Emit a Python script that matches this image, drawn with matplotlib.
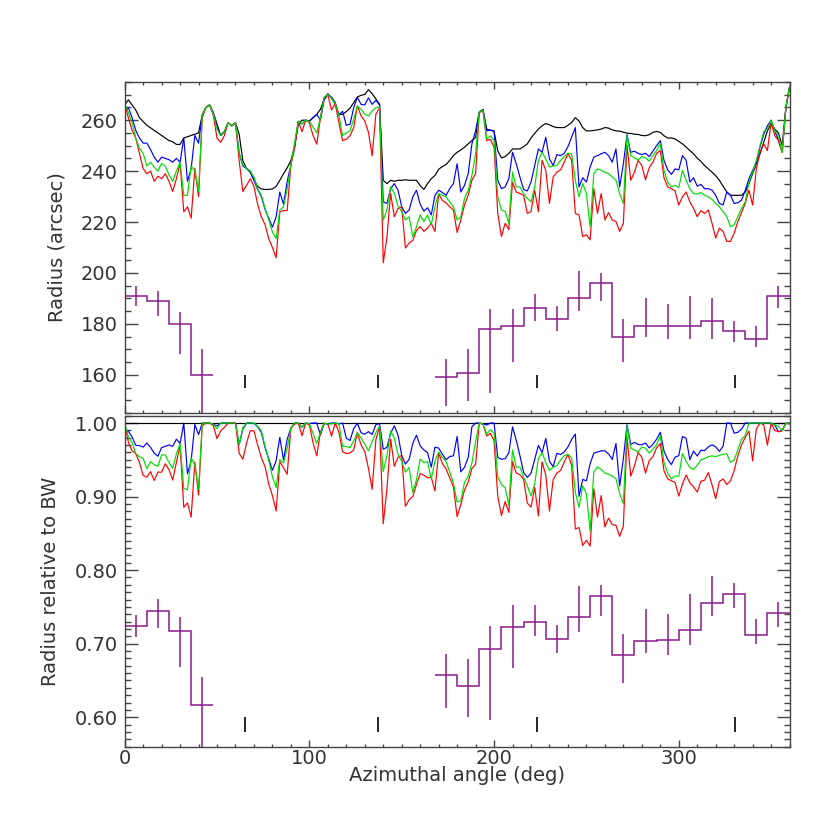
import numpy as np
import matplotlib
matplotlib.use("Agg")
import matplotlib.pyplot as plt
from matplotlib.ticker import MultipleLocator, FormatStrFormatter

# azimuth grid of the radius profiles (deg)
angle = np.arange(0, 361, 2)

# radius (arcsec) of the BW reference contour and the three coloured contours
radius_bw = [
    266, 268, 266, 264, 261, 259.5, 258, 257, 256, 255,
    254, 253, 252, 251.5, 250.5, 250.5, 253, 253.5, 254, 254.5,
    255, 262, 265, 266, 263, 258.5, 254, 255.5, 259, 257.8,
    259, 254.5, 244, 241, 239.5, 236.5, 234, 233, 232.8, 232.8,
    233, 234, 236.4, 239, 241.3, 244.2, 249.4, 258.4, 260, 260,
    259.7, 261, 262.3, 264.3, 268.2, 270.4, 268.8, 266.2, 262.3, 262.3,
    263.4, 264.7, 266.9, 269.1, 269.8, 270.1, 272, 270.4, 268.4, 266.2,
    236.4, 235.1, 236.4, 236, 236.4, 236.4, 236.6, 236.4, 236.4, 236.4,
    234.3, 232.8, 235.1, 237, 238.3, 240.7, 241.8, 242.6, 244.2, 246.1,
    247.4, 248.3, 249.4, 250.7, 252, 253.2, 263, 264.3, 256.5, 256.1,
    255.6, 248, 245.2, 245.7, 247, 248.7, 248.7, 248.7, 249.6, 250.7,
    253, 254.8, 256.5, 257.8, 258.7, 258.2, 257.5, 257.1, 257.1, 257.1,
    258, 259.1, 261, 259.7, 257.1, 255.8, 255.8, 256, 256.2, 256.5,
    257.1, 256.9, 256.2, 255.8, 255.7, 255.3, 254.9, 254.8, 254.5, 254.4,
    254, 253.9, 254.3, 255.2, 255.6, 255.2, 253.9, 253, 253, 252.6,
    251.7, 250.7, 249.4, 248.1, 246.8, 245.1, 243.8, 242.2, 240.9, 239.6,
    238.2, 236.4, 234.1, 231.8, 230.5, 230.5, 230.5, 230.5, 231.8, 235.1,
    239, 242.9, 246.8, 251.3, 255.8, 258.7, 256.5, 255, 250, 265,
    273,
]

radius_blue = [
    263, 265, 261, 256, 253, 251, 251, 248.5, 245.5, 243.5,
    245.5, 245, 244.5, 243.5, 245, 243.5, 253, 236, 241, 254,
    251, 262, 265, 266, 262.5, 257.5, 254, 255.5, 259, 257.8,
    259, 247, 242, 241, 240, 236.4, 232.8, 230, 225, 221.5,
    218, 222, 231.8, 227, 236, 242.5, 250, 259.5, 258.5, 260,
    259.5, 261, 262.3, 260, 268, 270, 269, 267, 262, 263.5,
    258, 258.4, 264.9, 269, 266.2, 266, 268.8, 266.2, 267.8, 266,
    228, 227.3, 233.1, 235.1, 232.5, 226, 223.4, 224.7, 229.9, 232.5,
    227, 224.3, 225.6, 222.8, 230.5, 232.5, 231.6, 230.5, 233.1, 235.1,
    242.9, 231.8, 234.4, 239, 250.7, 255.8, 263.4, 264, 255.8, 256.1,
    255.8, 236.4, 233.1, 233.8, 237, 247.4, 242.9, 237.7, 232.8, 232.2,
    235.7, 242.2, 248.7, 247.4, 253.3, 244.8, 242.2, 246.5, 246.1, 247,
    249.6, 253.3, 257.1, 233.8, 237.4, 235.7, 241.6, 245.5, 246.1, 246.8,
    247.4, 246.1, 243.5, 248.7, 233.8, 242.9, 254.3, 247.4, 247.8, 247,
    246.5, 247, 245.7, 247.8, 250, 252, 244.2, 240.5, 238.7, 240.9,
    240.5, 246.1, 244.2, 235.7, 237.4, 234.1, 234.8, 233.1, 233.1, 232.5,
    230.5, 227.3, 226.7, 231.8, 230.5, 227.3, 227.6, 228.6, 232.5, 237,
    240.3, 243.5, 249.4, 254.5, 257.8, 260, 255.8, 252, 247.4, 264.9,
    273.3,
]

radius_green = [
    266.5, 263, 259, 253, 249, 247, 242, 243.5, 241.5, 240,
    243, 242, 238.5, 236, 240, 243.5, 230.5, 230.5, 242, 240,
    232, 262, 265, 266, 262.5, 256.5, 254, 255.5, 259, 257.8,
    259, 247, 242.5, 241, 240, 237.7, 233, 230.5, 225.4, 221,
    216, 213.5, 224.7, 226, 233, 242.5, 251, 259.7, 258.5, 260,
    259.5, 257.3, 255, 261, 269, 270, 268.5, 266.5, 262, 254,
    255, 255.8, 260.4, 265.6, 264.3, 262.3, 261.7, 263.6, 264.9, 265.2,
    220.8, 224.7, 233.8, 231.2, 226.3, 224.1, 220.8, 222.1, 214.1, 218.2,
    222.8, 220.2, 222.8, 218.9, 226, 231.2, 230.5, 229.9, 227.9, 226,
    220.8, 222.1, 229.3, 232.5, 238.3, 246.8, 263.4, 263.9, 252.6, 253.8,
    252, 229.9, 224.7, 224.1, 219.5, 239.6, 233.8, 233.8, 231.2, 229.3,
    227.9, 233.8, 244.2, 247.4, 244.8, 241.6, 242, 242.2, 244.2, 245.7,
    247, 246.8, 236.4, 229.9, 235.1, 231.2, 218.2, 239, 240.9, 240.3,
    239.6, 239, 237.7, 236.4, 231.2, 227.3, 253.9, 246.1, 245.2, 244.4,
    245.7, 245.2, 243.9, 246.1, 248.1, 250.9, 240.3, 235.7, 233.8, 234.4,
    233.5, 240.3, 236.4, 233.1, 231.2, 231, 231.6, 230.5, 229.9, 228.9,
    227.3, 226, 224.1, 222.1, 218.2, 218.9, 222.1, 225.4, 227.9, 235.7,
    239.6, 244.2, 250, 255.6, 256.5, 260, 255.8, 253.9, 247.4, 264.9,
    273.3,
]

radius_red = [
    266, 261, 256, 253, 247, 241, 239, 240, 236, 238,
    237, 239, 236, 232, 237, 243, 224, 226, 221.5, 241,
    230, 261, 265, 266, 262, 253, 251.3, 254, 259, 257.8,
    259, 244, 232, 234.4, 237, 234, 227, 222, 219, 213.5,
    210, 206, 224, 224.5, 224.5, 242.5, 249, 259.5, 255.5, 260,
    259, 254, 250.6, 261, 269, 270, 264, 266.5, 259, 252,
    252.5, 253.9, 257.1, 265.6, 261.7, 259.7, 255.2, 246, 262.3, 264.9,
    204, 214, 231.2, 222.1, 225.4, 226, 209.8, 211.7, 212.8, 216.7,
    218.2, 216.3, 217.6, 219.5, 216.3, 231, 228.5, 227.5, 226, 224.7,
    215.9, 220.8, 226.7, 230.6, 236.4, 239, 263, 263.9, 252, 252.5,
    249.4, 223.4, 214.3, 219.5, 217, 235.7, 231.8, 231.2, 230.5, 223.4,
    224.1, 232.5, 224.1, 244.2, 240.3, 227.3, 237.7, 239.6, 240.5, 243.5,
    247, 244.2, 223.4, 222.8, 214.3, 215, 213, 233.1, 223.4, 231.2,
    220.8, 223.7, 220.8, 220.2, 216.3, 219.5, 250, 236.4, 239.6, 244.2,
    242.2, 236.6, 241.3, 243.5, 247, 248.1, 237.4, 233.8, 233.1, 232.2,
    226.7, 229.9, 231.8, 227.9, 225.4, 222.1, 224.5, 223.4, 224.7, 219.5,
    213.7, 217.6, 216.3, 212.4, 212.4, 215.6, 220.2, 223.7, 227.3, 232.5,
    226.7, 240.9, 247.4, 250.7, 248.1, 259.1, 253.9, 252, 247.4, 264.9,
    272.7,
]

# binned profile (purple), two groups of 12 deg bins
bins_a = [0, 12, 24, 36, 48]
centres_a = [6, 18, 30, 42]
bins_b = [168, 180, 192, 204, 216, 228, 240, 252, 264, 276, 288, 300, 312, 324, 336, 348, 360]
centres_b = [174, 186, 198, 210, 222, 234, 246, 258, 270, 282, 294, 306, 318, 330, 342, 354]

rad_a = [191.1, 188.9, 180.0, 160.0]
rad_a_hi = [195.0, 193.0, 184.8, 170.1]
rad_a_lo = [187.0, 183.1, 168.1, 144.0]
rad_b = [159.0, 160.9, 178.1, 179.0, 186.1, 182.0, 190.0, 196.0,
         175.0, 179.0, 179.0, 179.0, 181.0, 177.1, 173.9, 191.1]
rad_b_hi = [166.1, 170.0, 185.9, 185.9, 191.9, 187.0, 200.9, 200.0,
            182.0, 190.0, 188.0, 191.0, 190.0, 181.0, 179.0, 195.0]
rad_b_lo = [147.9, 149.8, 152.8, 165.1, 181.0, 177.1, 185.0, 188.8,
            165.1, 175.0, 173.9, 173.9, 173.9, 173.0, 170.9, 186.1]

rel_a = [0.724, 0.745, 0.717, 0.616]
rel_a_hi = [0.739, 0.761, 0.736, 0.655]
rel_a_lo = [0.709, 0.721, 0.668, 0.556]
rel_b = [0.658, 0.643, 0.693, 0.723, 0.730, 0.707, 0.736, 0.765,
         0.685, 0.704, 0.705, 0.718, 0.755, 0.767, 0.712, 0.742]
rel_b_hi = [0.686, 0.679, 0.724, 0.752, 0.753, 0.726, 0.779, 0.780,
            0.713, 0.747, 0.741, 0.767, 0.792, 0.783, 0.733, 0.757]
rel_b_lo = [0.613, 0.600, 0.596, 0.667, 0.710, 0.688, 0.716, 0.738,
            0.646, 0.688, 0.685, 0.698, 0.738, 0.749, 0.700, 0.723]

# short vertical markers near the bottom of each panel
mark_angles = [65, 137, 223.5, 330.5]
mark_top = [155, 160]
mark_bot = [0.58, 0.60]

PURPLE = '#8c1a8c'
TXT = '#333333'
plt.rcParams['font.family'] = 'DejaVu Sans'
plt.rcParams['font.size'] = 14

fig = plt.figure(figsize=(8.3, 8.3), dpi=100)
ax1 = fig.add_axes([0.1502, 0.5024, 0.8011, 0.3988])
ax2 = fig.add_axes([0.1502, 0.1004, 0.8011, 0.3988])

bw = np.array(radius_bw)
curves = [(radius_bw, 'black'), (radius_blue, '#0000ff'),
          (radius_red, '#ff0000'), (radius_green, '#00dd00')]

for vals, col in curves:
    ax1.plot(angle, vals, color=col, lw=0.85)
    # radius relative to the BW contour, capped at 1
    ax2.plot(angle, np.minimum(np.array(vals) / bw, 1.0), color=col, lw=0.85)


def binned(ax, edges, centres, v, hi, lo):
    ax.stairs(v, edges, baseline=None, color=PURPLE, lw=1.1)
    v = np.array(v)
    ax.errorbar(centres, v, yerr=[v - np.array(lo), np.array(hi) - v],
                fmt='none', ecolor=PURPLE, elinewidth=1.1, capsize=0)


binned(ax1, bins_a, centres_a, rad_a, rad_a_hi, rad_a_lo)
binned(ax1, bins_b, centres_b, rad_b, rad_b_hi, rad_b_lo)
binned(ax2, bins_a, centres_a, rel_a, rel_a_hi, rel_a_lo)
binned(ax2, bins_b, centres_b, rel_b, rel_b_hi, rel_b_lo)

ax1.vlines(mark_angles, mark_top[0], mark_top[1], color='black', lw=1.2)
ax2.vlines(mark_angles, mark_bot[0], mark_bot[1], color='black', lw=1.2)

ax1.set_xlim(0, 360)
ax2.set_xlim(0, 360)
ax1.set_ylim(145, 275)
ax2.set_ylim(0.56, 1.01)

for ax in (ax1, ax2):
    ax.xaxis.set_major_locator(MultipleLocator(100))
    ax.xaxis.set_minor_locator(MultipleLocator(10))
    for s in ax.spines.values():
        s.set_color('#444444')
        s.set_linewidth(1.0)
    ax.tick_params(which='both', direction='in', right=True, top=True,
                   colors='#444444', labelcolor=TXT, width=1.0)
    ax.tick_params(axis='y', which='major', length=9.4, pad=5)
    ax.tick_params(axis='y', which='minor', length=4.3)
    ax.tick_params(axis='x', which='major', length=5, pad=1.5)
    ax.tick_params(axis='x', which='minor', length=2.5)

ax2.tick_params(axis='x', which='both', top=False)
ax1.tick_params(axis='x', labelbottom=False)

ax1.yaxis.set_major_locator(MultipleLocator(20))
ax1.yaxis.set_minor_locator(MultipleLocator(5))
ax2.yaxis.set_major_locator(MultipleLocator(0.1))
ax2.yaxis.set_minor_locator(MultipleLocator(0.01))
ax2.yaxis.set_major_formatter(FormatStrFormatter('%.2f'))

ax1.set_ylabel('Radius (arcsec)', color=TXT)
ax1.yaxis.set_label_coords(-0.088, 0.5)
ax2.set_ylabel('Radius relative to BW', color=TXT)
ax2.yaxis.set_label_coords(-0.098, 0.5)
ax2.set_xlabel('Azimuthal angle (deg)', color=TXT)
ax2.xaxis.set_label_coords(0.5, -0.058)

fig.savefig('out.png', dpi=100)
